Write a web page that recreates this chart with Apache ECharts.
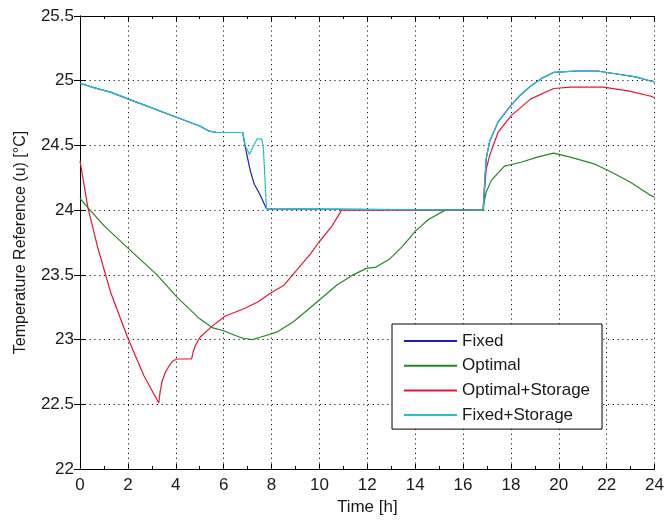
<!DOCTYPE html>
<html>
<head>
<meta charset="utf-8">
<title>Temperature Reference</title>
<script src="https://cdn.jsdelivr.net/npm/echarts@6/dist/echarts.min.js"></script>
<style>
  html, body { margin: 0; padding: 0; background: #fff; }
  #chart { width: 667px; height: 521px; }
</style>
</head>
<body>
<div id="chart"></div>
<script>
// Hourly temperature reference profiles (time in hours, value in °C)
const fixedT = [0, 0.5, 1.3, 2, 3, 4, 5, 5.4, 5.7, 6.8, 6.85, 6.98, 7.12, 7.28, 7.49, 7.79, 7.85, 16.84, 16.9, 16.97, 17.11, 17.46, 18.0, 18.4, 18.83, 19.3, 19.8, 20.3, 20.8, 21.6, 22.5, 23.2, 23.8, 24];
const fixedV = [24.98, 24.95, 24.91, 24.86, 24.79, 24.72, 24.65, 24.61, 24.60, 24.60, 24.54, 24.42, 24.30, 24.20, 24.13, 24.01, 24.0, 24.0, 24.2, 24.4, 24.53, 24.68, 24.81, 24.89, 24.96, 25.02, 25.065, 25.07, 25.075, 25.075, 25.05, 25.03, 25.0, 24.99];

const optimalT = [0, 0.33, 1.0, 1.98, 3.22, 4.04, 5.0, 5.55, 5.97, 6.52, 6.8, 7.2, 7.56, 8.25, 8.93, 9.9, 10.72, 11.41, 11.96, 12.37, 12.92, 13.47, 14.02, 14.57, 15.26, 16.84, 16.9, 16.97, 17.18, 17.73, 18.42, 19.1, 19.79, 20.48, 21.44, 22.13, 22.96, 23.78, 24];
const optimalV = [24.09, 24.02, 23.88, 23.71, 23.5, 23.33, 23.16, 23.09, 23.07, 23.03, 23.01, 23.0, 23.02, 23.06, 23.14, 23.29, 23.42, 23.5, 23.55, 23.56, 23.62, 23.72, 23.84, 23.93, 24.0, 24.0, 24.08, 24.14, 24.23, 24.34, 24.37, 24.41, 24.44, 24.41, 24.36, 24.3, 24.22, 24.12, 24.1];

const optStorT = [0, 0.33, 0.74, 1.29, 1.98, 2.67, 3.29, 3.35, 3.42, 3.55, 3.7, 3.85, 4.04, 4.66, 4.72, 4.81, 5.02, 5.5, 6.05, 6.87, 7.42, 7.97, 8.52, 8.93, 9.62, 9.97, 10.5, 10.93, 16.84, 16.9, 16.97, 17.11, 17.46, 18.01, 18.83, 19.79, 20.5, 21.17, 21.86, 22.96, 23.85, 24];
const optStorV = [24.38, 24.02, 23.71, 23.36, 23.02, 22.72, 22.51, 22.6, 22.67, 22.74, 22.79, 22.83, 22.85, 22.85, 22.9, 22.95, 23.02, 23.1, 23.18, 23.24, 23.29, 23.36, 23.42, 23.51, 23.66, 23.75, 23.87, 24.0, 24.0, 24.15, 24.32, 24.42, 24.6, 24.73, 24.86, 24.94, 24.95, 24.95, 24.95, 24.92, 24.88, 24.87];

const fixStorT = [0, 0.5, 1.3, 2, 3, 4, 5, 5.4, 5.7, 6.8, 6.9, 7.08, 7.25, 7.4, 7.59, 7.66, 7.79, 7.85, 16.84, 16.9, 16.97, 17.11, 17.46, 18.0, 18.4, 18.83, 19.3, 19.8, 20.3, 20.8, 21.6, 22.5, 23.2, 23.8, 24];
const fixStorV = [24.98, 24.95, 24.91, 24.86, 24.79, 24.72, 24.65, 24.61, 24.60, 24.60, 24.50, 24.43, 24.50, 24.55, 24.55, 24.48, 24.01, 24.0, 24.0, 24.2, 24.4, 24.53, 24.68, 24.81, 24.89, 24.96, 25.02, 25.065, 25.07, 25.075, 25.075, 25.05, 25.03, 25.0, 24.99];

const seriesNames = ['Fixed', 'Optimal', 'Optimal+Storage', 'Fixed+Storage'];
const seriesColors = ['#1c1cc4', '#1f8a1f', '#e41632', '#22c2c6'];

const xMin = 0, xMax = 24, xStep = 2;
const yMin = 22, yMax = 25.5, yStep = 0.5;

const zip = (t, v) => t.map((x, i) => [x, v[i]]);
const curves = [zip(fixedT, fixedV), zip(optimalT, optimalV), zip(optStorT, optStorV), zip(fixStorT, fixStorV)];

const FONT = '"Liberation Sans", Arial, Helvetica, sans-serif';
const TEXT = '#1a1a1a';
const dotted = { color: '#1a1a1a', width: 1, type: [1.2, 3.6] };
const black = { color: '#000', width: 1 };

const chart = echarts.init(document.getElementById('chart'), null, { renderer: 'canvas' });

chart.setOption({
  animation: false,
  backgroundColor: '#fff',
  textStyle: { fontFamily: FONT },
  grid: { left: 80, right: 5, top: 16, bottom: 48, containLabel: false },
  legend: {
    orient: 'vertical',
    left: 392,
    top: 324,
    data: seriesNames,
    backgroundColor: '#fff',
    borderColor: '#000',
    borderWidth: 1,
    borderRadius: 0,
    padding: [8, 12, 5, 11],
    itemWidth: 53,
    itemHeight: 18,
    itemGap: 6.7,
    // legend keys are plain line segments
    itemStyle: { opacity: 0 },
    textStyle: { fontFamily: FONT, fontSize: 17, color: TEXT, lineHeight: 18 }
  },
  xAxis: [
    {
      type: 'value', min: xMin, max: xMax, interval: xStep, position: 'bottom',
      name: 'Time [h]', nameLocation: 'middle', nameGap: 30,
      nameTextStyle: { fontFamily: FONT, fontSize: 17, color: TEXT },
      axisLine: { show: true, lineStyle: black },
      axisTick: { show: true, inside: true, length: 5, lineStyle: black },
      minorTick: { show: true, splitNumber: 2, length: 3, lineStyle: black },
      axisLabel: { fontFamily: FONT, fontSize: 17, color: TEXT, margin: 8 },
      splitLine: { show: true, lineStyle: dotted }
    },
    {
      type: 'value', min: xMin, max: xMax, interval: xStep, position: 'top',
      axisLine: { show: true, lineStyle: black },
      axisTick: { show: true, inside: true, length: 5, lineStyle: black },
      minorTick: { show: true, splitNumber: 2, length: 3, lineStyle: black },
      axisLabel: { show: false },
      splitLine: { show: false }
    }
  ],
  yAxis: [
    {
      type: 'value', min: yMin, max: yMax, interval: yStep, position: 'left',
      name: 'Temperature Reference (u) [°C]', nameLocation: 'middle', nameGap: 51,
      nameTextStyle: { fontFamily: FONT, fontSize: 16, color: TEXT },
      axisLine: { show: true, lineStyle: black },
      axisTick: { show: true, inside: true, length: 6, lineStyle: black },
      axisLabel: { fontFamily: FONT, fontSize: 17, color: TEXT, margin: 6 },
      splitLine: { show: true, lineStyle: dotted }
    },
    {
      type: 'value', min: yMin, max: yMax, interval: yStep, position: 'right',
      axisLine: { show: true, lineStyle: black },
      axisTick: { show: true, inside: true, length: 6, lineStyle: black },
      axisLabel: { show: false },
      splitLine: { show: false }
    }
  ],
  series: seriesNames.map((name, i) => ({
    name: name,
    type: 'line',
    xAxisIndex: 0,
    yAxisIndex: 0,
    data: curves[i],
    symbol: 'none',
    smooth: false,
    color: seriesColors[i],
    lineStyle: { width: 1.2, color: seriesColors[i] },
    z: 2 + i
  }))
});
</script>
</body>
</html>
